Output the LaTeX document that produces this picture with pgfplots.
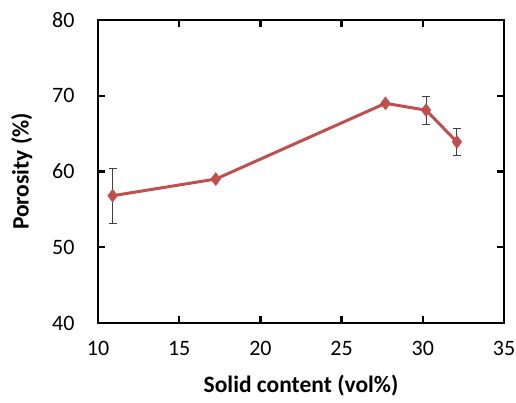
\documentclass[border=0pt]{standalone}
\usepackage{fontspec}
\setmainfont{Carlito}
\usepackage{pgfplots}
\pgfplotsset{compat=1.18}
\definecolor{exred}{HTML}{C0504D}
\definecolor{errgray}{HTML}{404040}
\begin{document}
\begin{tikzpicture}
\begin{axis}[
  name=ax,
  scale only axis,
  width=406pt, height=303pt,
  xmin=10, xmax=35, ymin=40, ymax=80,
  xtick={10,15,...,35}, ytick={40,50,...,80},
  tick align=inside,
  major tick length=7pt,
  axis line style={line width=2.4pt, black},
  every tick/.style={line width=2.4pt, black},
  /pgf/number format/assume math mode=true,
  tick label style={font=\fontsize{22}{26}\selectfont},
  xticklabel style={yshift=-15pt},
  yticklabel style={xshift=-20pt},
  label style={font=\fontsize{23.5}{28}\selectfont\bfseries},
  xlabel={Solid content (vol\%)},
  ylabel={Porosity (\%)},
  xlabel style={yshift=-12pt},
  ylabel style={yshift=13pt},
]
\addplot[color=exred, line width=3pt, mark=diamond*, mark size=6.5pt,
  mark options={fill=exred, draw=exred, line width=0.5pt},
  error bars/.cd, y dir=both, y explicit,
  error bar style={color=errgray, line width=0.9pt},
  error mark options={rotate=90, mark size=4pt, color=errgray, line width=0.9pt}]
coordinates {
  (10.9,56.8) +- (0,3.65)
  (17.25,59.0) +- (0,0)
  (27.7,69.0) +- (0,0)
  (30.2,68.1) +- (0,1.85)
  (32.1,63.9) +- (0,1.8)
};
\end{axis}
\pgfresetboundingbox
\path[use as bounding box] (ax.south west) ++(-98pt,-80pt) rectangle ([shift={(12pt,20pt)}]ax.north east);
\end{tikzpicture}
\end{document}
